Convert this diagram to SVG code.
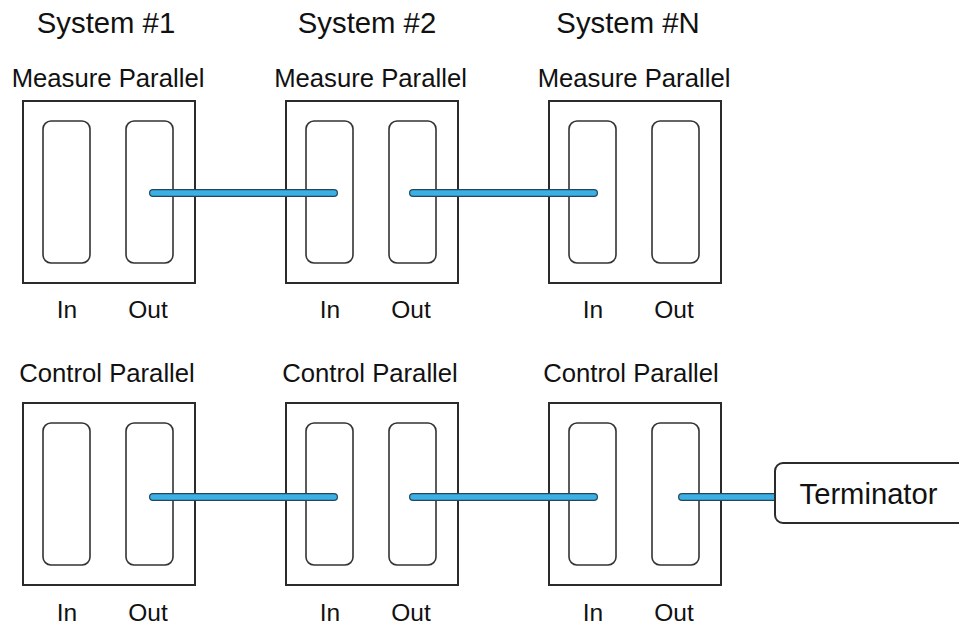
<svg xmlns="http://www.w3.org/2000/svg" width="959" height="625" viewBox="0 0 959 625">
  <style>
    text { font-family: "Liberation Sans", Arial, sans-serif; fill: #111; text-anchor: middle; }
    .sys { font-size: 29.3px; }
    .lbl { font-size: 25.7px; }
    .port { font-size: 24.5px; }
    .term { font-size: 29.2px; }
    .box { fill: #fff; stroke: #2b2b2b; stroke-width: 2; }
    .slot { fill: #fff; stroke: #333; stroke-width: 1.6; }
    .wire-edge { stroke: #22465a; stroke-width: 8; stroke-linecap: round; fill: none; }
    .wire { stroke: #3cb0e4; stroke-width: 5.6; stroke-linecap: round; fill: none; }
  </style>
  <defs>
    <!-- a parallel port unit: outer frame with In and Out slots -->
    <g id="unit">
      <rect class="box" x="0" y="0" width="172" height="182"/>
      <rect class="slot" x="20" y="20" width="47" height="142" rx="8"/>
      <rect class="slot" x="103" y="20" width="47" height="142" rx="8"/>
    </g>
  </defs>

  <rect width="959" height="625" fill="#fff"/>

  <!-- column headings -->
  <g id="headings">
    <text class="sys" x="106" y="33">System #1</text>
    <text class="sys" x="367" y="33">System #2</text>
    <text class="sys" x="628" y="33">System #N</text>
  </g>

  <!-- measure parallel units -->
  <g id="measure-1">
    <text class="lbl" x="108" y="87">Measure Parallel</text>
    <use href="#unit" x="23" y="101"/>
    <text class="port" x="67" y="318">In</text>
    <text class="port" x="148" y="318">Out</text>
  </g>
  <g id="measure-2">
    <text class="lbl" x="370.5" y="87">Measure Parallel</text>
    <use href="#unit" x="286" y="101"/>
    <text class="port" x="330" y="318">In</text>
    <text class="port" x="411" y="318">Out</text>
  </g>
  <g id="measure-n">
    <text class="lbl" x="634" y="87">Measure Parallel</text>
    <use href="#unit" x="549" y="101"/>
    <text class="port" x="593" y="318">In</text>
    <text class="port" x="674" y="318">Out</text>
  </g>

  <!-- control parallel units -->
  <g id="control-1">
    <text class="lbl" x="107" y="382">Control Parallel</text>
    <use href="#unit" x="23" y="403"/>
    <text class="port" x="67" y="621">In</text>
    <text class="port" x="148" y="621">Out</text>
  </g>
  <g id="control-2">
    <text class="lbl" x="370" y="382">Control Parallel</text>
    <use href="#unit" x="286" y="403"/>
    <text class="port" x="330" y="621">In</text>
    <text class="port" x="411" y="621">Out</text>
  </g>
  <g id="control-n">
    <text class="lbl" x="631" y="382">Control Parallel</text>
    <use href="#unit" x="549" y="403"/>
    <text class="port" x="593" y="621">In</text>
    <text class="port" x="674" y="621">Out</text>
  </g>

  <!-- cables between ports -->
  <g id="connectors">
    <line class="wire-edge" x1="153" y1="193" x2="334" y2="193"/>
    <line class="wire" x1="153" y1="193" x2="334" y2="193"/>
    <line class="wire-edge" x1="413" y1="193" x2="594" y2="193"/>
    <line class="wire" x1="413" y1="193" x2="594" y2="193"/>

    <line class="wire-edge" x1="153" y1="497" x2="334" y2="497"/>
    <line class="wire" x1="153" y1="497" x2="334" y2="497"/>
    <line class="wire-edge" x1="413" y1="497" x2="594" y2="497"/>
    <line class="wire" x1="413" y1="497" x2="594" y2="497"/>
    <line class="wire-edge" x1="682" y1="497" x2="780" y2="497"/>
    <line class="wire" x1="682" y1="497" x2="780" y2="497"/>
  </g>

  <!-- bus terminator -->
  <g id="terminator">
    <rect class="box" x="775" y="463" width="200" height="60" rx="8" stroke-width="1.8"/>
    <text class="term" x="868.5" y="504">Terminator</text>
  </g>
</svg>
